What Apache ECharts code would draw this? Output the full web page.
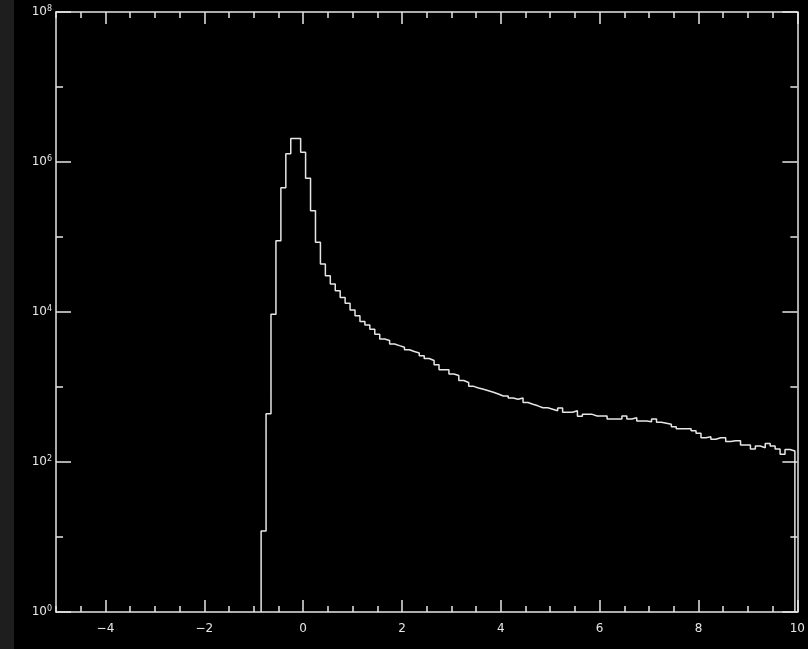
<!DOCTYPE html>
<html>
<head>
<meta charset="utf-8">
<script src="https://cdn.jsdelivr.net/npm/echarts@6/dist/echarts.min.js"></script>
<style>
  html, body { margin: 0; padding: 0; background: #000; }
  #chart { width: 808px; height: 649px; }
</style>
</head>
<body>
<div id="chart"></div>
<script>
// histogram bins (centre of each bin) and counts
var binWidth = 0.1;
var binCenters = [
  -0.8, -0.7, -0.6, -0.5, -0.4, -0.3, -0.2, -0.1,
  0.0, 0.1, 0.2, 0.3, 0.4, 0.5, 0.6, 0.7, 0.8, 0.9,
  1.0, 1.1, 1.2, 1.3, 1.4, 1.5, 1.6, 1.7, 1.8, 1.9,
  2.0, 2.1, 2.2, 2.3, 2.4, 2.5, 2.6, 2.7, 2.8, 2.9,
  3.0, 3.1, 3.2, 3.3, 3.4, 3.5, 3.6, 3.7, 3.8, 3.9,
  4.0, 4.1, 4.2, 4.3, 4.4, 4.5, 4.6, 4.7, 4.8, 4.9,
  5.0, 5.1, 5.2, 5.3, 5.4, 5.5, 5.6, 5.7, 5.8, 5.9,
  6.0, 6.1, 6.2, 6.3, 6.4, 6.5, 6.6, 6.7, 6.8, 6.9,
  7.0, 7.1, 7.2, 7.3, 7.4, 7.5, 7.6, 7.7, 7.8, 7.9,
  8.0, 8.1, 8.2, 8.3, 8.4, 8.5, 8.6, 8.7, 8.8, 8.9,
  9.0, 9.1, 9.2, 9.3, 9.4, 9.5, 9.6, 9.7, 9.8, 9.9
];
var counts = [
  12, 440, 9300, 89000, 454000, 1290000, 2050000, 2050000,
  1350000, 607000, 224000, 85000, 43600, 30500, 23600, 19200, 15600, 13100,
  10600, 8930, 7470, 6710, 5880, 5060, 4370, 4170, 3750, 3560,
  3380, 3140, 2970, 2840, 2610, 2400, 2260, 1980, 1700, 1700,
  1490, 1420, 1220, 1150, 1020, 970, 931, 889, 849, 807,
  759, 759, 713, 685, 713, 621, 590, 561, 530, 530,
  506, 482, 525, 460, 460, 483, 406, 432, 432, 410,
  410, 410, 374, 374, 374, 410, 374, 390, 352, 352,
  345, 374, 338, 328, 318, 296, 278, 278, 278, 261,
  241, 211, 217, 201, 211, 211, 187, 192, 192, 169,
  169, 149, 163, 155, 177, 163, 149, 127, 147, 140
];

// axis ranges and tick labels
var xMin = -5, xMax = 10;
var xMajorTicks = [-4, -2, 0, 2, 4, 6, 8, 10];
var yMin = 1, yMax = 1e8;
var yMajorTicks = [1, 1e2, 1e4, 1e6, 1e8];

var fg = '#e6e6e6';
var font = 'DejaVu Sans';

// step outline of the histogram: both edges of every bin, dropping to the floor at the ends
var outline = [[binCenters[0] - binWidth / 2, yMin]];
for (var i = 0; i < binCenters.length; i++) {
  outline.push([binCenters[i] - binWidth / 2, counts[i]]);
  outline.push([binCenters[i] + binWidth / 2, counts[i]]);
}
outline.push([binCenters[binCenters.length - 1] + binWidth / 2, yMin]);

function xLabel(v) {
  if (xMajorTicks.indexOf(v) < 0) return '';
  return v < 0 ? '\u2212' + Math.abs(v) : String(v);
}
function yLabel(v) {
  var e = Math.round(Math.log10(v));
  if (yMajorTicks.indexOf(Math.pow(10, e)) < 0) return '';
  return '{b|10}{e|' + e + '}';
}

function xAx(pos, major, labels) {
  var ax = {
    type: 'value', position: pos, min: xMin, max: xMax,
    axisLine: { show: !major, onZero: false, lineStyle: { color: fg, width: 1.5 } },
    splitLine: { show: false },
    axisTick: { inside: true, length: major ? 12 : 6, lineStyle: { color: fg, width: 1.5 } },
    axisLabel: { show: labels, color: fg, fontFamily: font, fontSize: 12, margin: 11, formatter: xLabel }
  };
  if (major) ax.axisTick.customValues = xMajorTicks;
  else ax.interval = 0.5;
  return ax;
}
function yAx(pos, major, labels) {
  var ax = {
    type: 'log', logBase: 10, position: pos, min: yMin, max: yMax,
    axisLine: { show: !major, onZero: false, lineStyle: { color: fg, width: 1.5 } },
    splitLine: { show: false },
    axisTick: { inside: true, length: major ? 15 : 7, lineStyle: { color: fg, width: 1.5 } },
    axisLabel: {
      show: labels, margin: 4, formatter: yLabel,
      rich: {
        b: { color: fg, fontFamily: font, fontSize: 12, lineHeight: 14 },
        e: { color: fg, fontFamily: font, fontSize: 8, lineHeight: 14, verticalAlign: 'top', padding: [0, 0, 6, 0] }
      }
    }
  };
  if (major) ax.axisTick.customValues = yMajorTicks;
  else ax.splitNumber = 8;
  return ax;
}

var chart = echarts.init(document.getElementById('chart'));
chart.setOption({
  backgroundColor: '#000',
  animation: false,
  grid: { left: 56, right: 7, top: 12, bottom: 37, containLabel: false },
  xAxis: [
    xAx('bottom', false, true),
    xAx('bottom', true, false),
    xAx('top', false, false),
    xAx('top', true, false)
  ],
  yAxis: [
    yAx('left', false, true),
    yAx('left', true, false),
    yAx('right', false, false),
    yAx('right', true, false)
  ],
  graphic: [
    { type: 'rect', left: 0, top: 0, shape: { width: 14, height: 649 }, style: { fill: '#1e1e1e' }, z: -1 }
  ],
  series: [{
    type: 'line',
    xAxisIndex: 0,
    yAxisIndex: 0,
    data: outline,
    showSymbol: false,
    symbol: 'none',
    lineStyle: { color: fg, width: 1.5 }
  }]
});
</script>
</body>
</html>
